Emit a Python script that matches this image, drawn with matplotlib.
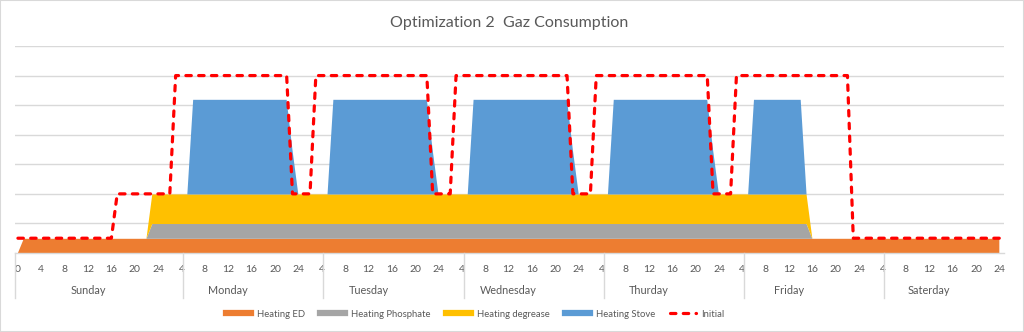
import numpy as np
import matplotlib.pyplot as plt
from matplotlib.lines import Line2D
from matplotlib.patches import Rectangle

plt.switch_backend("Agg")
plt.rcParams["font.family"] = ["Lato", "DejaVu Sans"]

# hour of each point: Sunday 0..24, then 1..24 for every other day
hours_sun = list(range(0, 25))
hours_day = list(range(1, 25))
days = ["Sunday", "Monday", "Tuesday", "Wednesday", "Thurday", "Friday", "Saterday"]

# Heating ED
ed_sun = [0.0] + [0.48] * 24
ed_day = [0.48] * 24

# Heating Phosphate
phos_sun = [0.0] * 23 + [0.5, 0.5]
phos_wk = [0.5] * 24
phos_fri = [0.5] * 15 + [0.0] * 9
phos_sat = [0.0] * 24

# Heating degrease
deg_sun = [0.0] * 23 + [1.0, 1.0]
deg_wk = [1.0] * 24
deg_fri = [1.0] * 15 + [0.0] * 9
deg_sat = [0.0] * 24

# Heating Stove
stove_sun = [0.0] * 25
stove_wk = [0.0] * 5 + [3.2] * 17 + [1.5, 0.0]
stove_fri = [0.0] * 5 + [3.2] * 9 + [0.0] * 10
stove_sat = [0.0] * 24

# Initial
init_sun = [0.5] * 17 + [2.0] * 8
init_wk = [2.0] * 2 + [6.0] * 20 + [2.0] * 2
init_fri = [2.0] * 2 + [6.0] * 20 + [0.5] * 2
init_sat = [0.5] * 24

hours = hours_sun + hours_day * 6
ed = ed_sun + ed_day * 6
phos = phos_sun + phos_wk * 4 + phos_fri + phos_sat
deg = deg_sun + deg_wk * 4 + deg_fri + deg_sat
stove = stove_sun + stove_wk * 4 + stove_fri + stove_sat
initial = init_sun + init_wk * 4 + init_fri + init_sat

x = np.arange(len(hours))
dash = (0, (1.7, 2.3))

fig = plt.figure(figsize=(10.24, 3.32), dpi=100)
fig.patches.append(Rectangle((0, 0), 1, 1, transform=fig.transFigure, fill=False,
                             edgecolor="#d9d9d9", linewidth=1.5))
ax = fig.add_axes([15 / 1024, 1 - 253 / 332, 989 / 1024, 207 / 332])

ax.stackplot(x, ed, phos, deg, stove,
             colors=["#ED7D31", "#A5A5A5", "#FFC000", "#5B9BD5"], zorder=2)
ax.plot(x, initial, color="#FF0000", linewidth=2.3, linestyle=dash,
        dash_capstyle="round", solid_joinstyle="round", zorder=3)

ax.set_xlim(-0.5, 168.8)
ax.set_ylim(0, 7)
ax.set_yticks(np.arange(1, 8))
ax.yaxis.grid(True, color="#d9d9d9", linewidth=1)
ax.set_axisbelow(True)
ax.tick_params(axis="y", left=False, labelleft=False)
for s in ["top", "right", "left"]:
    ax.spines[s].set_visible(False)
ax.spines["bottom"].set_color("#d9d9d9")
ax.spines["bottom"].set_linewidth(1)

ax.set_xticks(x[::4])
ax.set_xticklabels([str(h) for h in hours[::4]], fontsize=7.5, color="#595959")
ax.tick_params(axis="x", length=0, pad=9)

# day group labels and dividers under the axis
trans = ax.get_xaxis_transform()
for k, d in enumerate(days):
    ax.text(12 + 24 * k, -0.18, d, transform=trans, ha="center", va="center",
            fontsize=7.8, color="#595959")
for xd in [-0.5] + [28.3 + 24 * k for k in range(6)]:
    ax.plot([xd, xd], [0, -0.215], transform=trans, color="#d9d9d9",
            linewidth=1, clip_on=False)

ax.set_title("Optimization 2  Gaz Consumption", fontsize=11.5, color="#595959", pad=14)

handles = [Line2D([], [], color="#ED7D31", linewidth=4.5),
           Line2D([], [], color="#A5A5A5", linewidth=4.5),
           Line2D([], [], color="#FFC000", linewidth=4.5),
           Line2D([], [], color="#5B9BD5", linewidth=4.5),
           Line2D([], [], color="#FF0000", linewidth=2.3, linestyle=dash,
                  dash_capstyle="round")]
labels = ["Heating ED", "Heating Phosphate", "Heating degrease", "Heating Stove", "Initial"]
leg = fig.legend(handles, labels, loc="center", bbox_to_anchor=(0.464, 0.054), ncol=5,
                 frameon=False, fontsize=6.8, handlelength=2.7, handletextpad=0.6,
                 columnspacing=1.6)
for t in leg.get_texts():
    t.set_color("#595959")

fig.savefig("out.png", dpi=100)
